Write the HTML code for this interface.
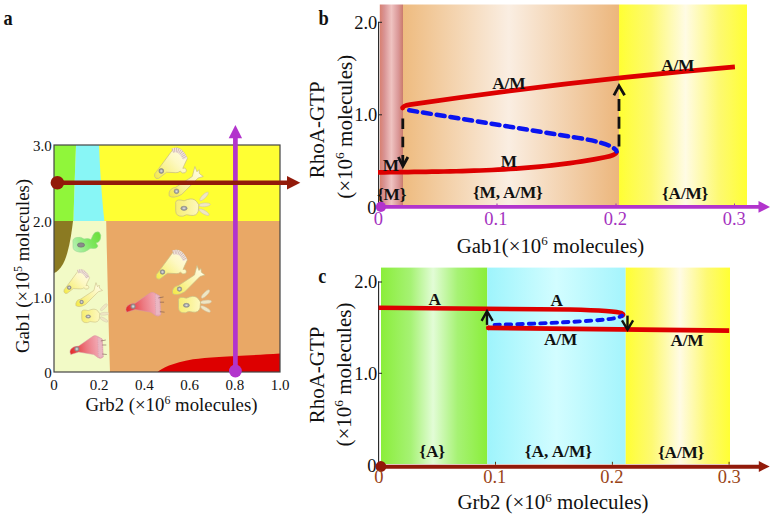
<!DOCTYPE html>
<html><head><meta charset="utf-8"><title>Figure</title>
<style>
html,body{margin:0;padding:0;background:#fff;}
body{width:776px;height:518px;overflow:hidden;}
svg{display:block;font-family:"Liberation Serif",serif;}
.t{font-size:18.5px;fill:#111;}
.ta{font-size:15px;fill:#111;}
.b{font-weight:bold;font-size:17.3px;fill:#111;letter-spacing:-0.2px;}
.ax{font-size:18.8px;fill:#111;}
.ay{font-size:21px;fill:#111;}
</style></head>
<body>
<svg width="776" height="518" viewBox="0 0 776 518">
<defs>
  <linearGradient id="gPink" x1="0" x2="1" y1="0" y2="0">
    <stop offset="0" stop-color="#d88070"/><stop offset="0.2" stop-color="#d99494"/><stop offset="0.5" stop-color="#efc3c1"/><stop offset="0.8" stop-color="#da9797"/><stop offset="0.95" stop-color="#d08276"/><stop offset="1" stop-color="#c87a6e"/>
  </linearGradient>
  <linearGradient id="gOr" x1="0" x2="1" y1="0" y2="0">
    <stop offset="0" stop-color="#eebb7f"/><stop offset="0.49" stop-color="#faeee2"/><stop offset="1" stop-color="#ecb67c"/>
  </linearGradient>
  <linearGradient id="gYel" x1="0" x2="1" y1="0" y2="0">
    <stop offset="0" stop-color="#ffff33"/><stop offset="0.25" stop-color="#fdf972"/><stop offset="0.52" stop-color="#fffbe4"/><stop offset="0.78" stop-color="#fdf972"/><stop offset="1" stop-color="#ffff33"/>
  </linearGradient>
  <linearGradient id="gGrn" x1="0" x2="1" y1="0" y2="0">
    <stop offset="0" stop-color="#8aee3a"/><stop offset="0.28" stop-color="#a6f274"/><stop offset="0.49" stop-color="#e2fcd6"/><stop offset="0.72" stop-color="#a6f274"/><stop offset="1" stop-color="#8aee3a"/>
  </linearGradient>
  <linearGradient id="gCy" x1="0" x2="1" y1="0" y2="0">
    <stop offset="0" stop-color="#9ef4fc"/><stop offset="0.5" stop-color="#d2fdff"/><stop offset="1" stop-color="#a4f4fc"/>
  </linearGradient>

  <linearGradient id="gCellY" gradientUnits="userSpaceOnUse" x1="-6" y1="6" x2="20" y2="-18">
    <stop offset="0" stop-color="#f4ea48"/><stop offset="0.35" stop-color="#f9f290"/><stop offset="0.7" stop-color="#fdf8c4"/><stop offset="1" stop-color="#fffbdc"/>
  </linearGradient>
  <linearGradient id="gCellY2" gradientUnits="userSpaceOnUse" x1="10" y1="20" x2="40" y2="-2">
    <stop offset="0" stop-color="#f4ea48"/><stop offset="0.4" stop-color="#f9f294"/><stop offset="1" stop-color="#fffce4"/>
  </linearGradient>
  <linearGradient id="gCellY3" gradientUnits="userSpaceOnUse" x1="16" y1="33" x2="38" y2="33">
    <stop offset="0" stop-color="#f7ee70"/><stop offset="1" stop-color="#fdf8c0"/>
  </linearGradient>
  <linearGradient id="gCellR" gradientUnits="userSpaceOnUse" x1="-6" y1="2" x2="26" y2="-2">
    <stop offset="0" stop-color="#e42c2c"/><stop offset="0.5" stop-color="#ec7a82"/><stop offset="1" stop-color="#f4b8c4"/>
  </linearGradient>
  <linearGradient id="gCellG" gradientUnits="userSpaceOnUse" x1="74" y1="248" x2="99" y2="236">
    <stop offset="0" stop-color="#b4f0b0"/><stop offset="0.6" stop-color="#7ee860"/><stop offset="1" stop-color="#6ee040"/>
  </linearGradient>
  <radialGradient id="gNuc" cx="0.5" cy="0.5" r="0.5">
    <stop offset="0" stop-color="#e8e8e8"/><stop offset="0.6" stop-color="#a8a8a8"/><stop offset="1" stop-color="#888"/>
  </radialGradient>
  <g id="fan">
    <path d="M-6.4,5.2 Q-7,2.5 -4.5,0.5 L11.8,-21.5 Q19,-24.5 24.8,-11.9 L22,-6 Q21,-3.5 20.5,-2.5 Q23.5,-3.8 23.9,0 Q23.2,2.6 20,1.8 L18,0.2 Q16,1.8 13.8,1.6 L5,1.2 L-2.5,7 Q-5.5,8 -6.4,5.2 Z" fill="url(#gCellY)" stroke="#c9bd84" stroke-width="0.7"/>
    <path d="M10.6,-19.4 Q17.8,-22.2 22.8,-11.6" fill="none" stroke="#efe3da" stroke-width="4.4"/>
    <path d="M10.6,-19.4 Q17.8,-22.2 22.8,-11.6" fill="none" stroke="#c6a9a4" stroke-width="4.4" stroke-dasharray="0.55 1.25"/>
    <circle cx="0" cy="0" r="2.3" fill="url(#gNuc)" stroke="#7e7e8a" stroke-width="0.6"/>
  </g>
  <g id="elong">
    <g transform="translate(-17,-17.1)">
    <path d="M10,18.5 Q11,14 16,13.5 L32,3 L34.5,-6.5 L36.5,-1.5 L38.5,-3.5 L38.8,0.2 L42.5,3 L37.5,4.5 L22,20 Q14,24.5 10,21.5 Z" fill="url(#gCellY2)" stroke="#c9bd84" stroke-width="0.7"/>
    <circle cx="17" cy="17.1" r="2.3" fill="url(#gNuc)" stroke="#8a8a8a" stroke-width="0.5"/>
    </g>
  </g>
  <g id="round">
    <g transform="translate(-23.9,-33.3)">
    <ellipse cx="43" cy="22" rx="5.5" ry="1.8" transform="rotate(-45 43 22)" fill="#efe6c4" stroke="#cfc6a8" stroke-width="0.5"/>
    <ellipse cx="43.5" cy="30" rx="5.5" ry="1.8" transform="rotate(-5 43.5 30)" fill="#efe6c4" stroke="#cfc6a8" stroke-width="0.5"/>
    <ellipse cx="43" cy="37" rx="5.5" ry="1.8" transform="rotate(30 43 37)" fill="#efe6c4" stroke="#cfc6a8" stroke-width="0.5"/>
    <path d="M16,30 Q15,24.5 21,25.5 Q24,27 27,25 Q33,23 36,27 L38,30 L37.5,36 Q36,41 30,40 Q26,38.5 23,40.8 Q16,41.5 16,35.5 Z" fill="url(#gCellY3)" stroke="#c9bd84" stroke-width="0.7"/>
    <ellipse cx="23.9" cy="33.3" rx="3" ry="2" fill="url(#gNuc)" stroke="#8a8a8a" stroke-width="0.5"/>
    </g>
  </g>
  <g id="redcell">
    <path d="M-6.5,1 Q-4,-3 2,-3 L15,-12 Q18,-14.5 21,-12.5 L25.5,-10 L26.5,8 Q24,10.5 21,8.5 L17,5.5 L2,3 L-6,5.5 Q-7.5,3 -6.5,1 Z" fill="url(#gCellR)" stroke="#d49aa4" stroke-width="0.5"/>
    <path d="M21,-12 L25,-10 L26,8 L21.5,8.5 Z" fill="#eab6c2" stroke="#cc95a5" stroke-width="0.5" stroke-dasharray="1 0.8"/>
    <path d="M24,-8 L29,-9 M25.5,-4 L29.5,-4 M25.5,5 L30,5.5" stroke="#7a5a50" stroke-width="0.6"/>
    <circle cx="0" cy="0" r="2.2" fill="url(#gNuc)" stroke="#8a8a8a" stroke-width="0.5"/>
  </g>
</defs>

<!-- ============ PANEL A ============ -->
<text transform="translate(3.6,24.6) scale(0.87,1)" style="font-weight:bold;font-size:21px;fill:#111">a</text>
<g>
  <rect x="54" y="145" width="226" height="76" fill="#ffff33"/>
  <path d="M54,145 L76,145 C75,170 74,200 73.5,221 L54,221 Z" fill="#90f63a"/>
  <path d="M76,145 L99,145 C100,170 102,200 104.4,221 L73.5,221 C74,200 75,170 76,145 Z" fill="#88f6f6"/>
  <rect x="54" y="221" width="226" height="151" fill="#e9a866"/>
  <path d="M54,221 L106.2,221 C107,260 108.5,320 110,372 L54,372 Z" fill="#f2fac6"/>
  <path d="M54,221 L73,221 C71,238 68,255 63,264 C60,269 57,272 54,273 Z" fill="#8b7a22"/>
  <path d="M157.5,372 C162,368 172,363 193,359.2 C210,357 240,356 280,353.5 L280,372 Z" fill="#dd0000"/>
  <rect x="54" y="145" width="226" height="227" fill="none" stroke="#444" stroke-width="1.2"/>
</g>
<!-- cells placeholder -->
<g id="cells">
  <use href="#fan" transform="translate(161.3,171) scale(1.05)"/>
  <use href="#elong" transform="translate(176.5,191.3) scale(1.05)"/>
  <use href="#round" transform="translate(184,208.3) scale(1.05)"/>
  <use href="#fan" transform="translate(162.5,272)"/>
  <use href="#elong" transform="translate(179.5,289.1)"/>
  <use href="#round" transform="translate(186.4,305.3)"/>
  <use href="#fan" transform="translate(69.2,287.6) scale(0.82)"/>
  <use href="#elong" transform="translate(81.6,302) scale(0.82)"/>
  <use href="#round" transform="translate(88.2,316.5) scale(0.82)"/>
  <use href="#redcell" transform="translate(76.8,349)"/>
  <use href="#redcell" transform="translate(133.1,306.4) scale(1.05)"/>
  <path d="M73,243 Q72,238 77,237.5 Q81,236.5 84,239 Q88,238 91,239.5 L93,235 Q95,231 99,232 Q102,235 100,240 Q99,242.5 96,243 L98,246 Q97,249 93,248.5 Q90,247.5 88,250 Q84,253 79,252 Q73,251 73,247 Z" fill="url(#gCellG)" stroke="#9ad890" stroke-width="0.6"/>
  <ellipse cx="81" cy="245" rx="3.6" ry="2.2" fill="#8a8a8a" stroke="#666" stroke-width="0.5"/>
</g>
<!-- arrows a -->
<line x1="235.4" y1="371" x2="235.4" y2="137" stroke="#b234cc" stroke-width="4.7"/>
<polygon points="228.7,138.2 235.4,125 242.1,138.2" fill="#b234cc"/>
<circle cx="235.4" cy="371" r="6.4" fill="#b234cc"/>
<line x1="57.4" y1="182.8" x2="288" y2="182.8" stroke="#921a0a" stroke-width="4.6"/>
<polygon points="287,176 300.3,182.8 287,189.6" fill="#921a0a"/>
<circle cx="57.4" cy="182.8" r="6.8" fill="#921a0a"/>
<!-- ticks a -->
<g class="ta" text-anchor="end">
  <text x="51.7" y="150.8">3.0</text>
  <text x="51.7" y="226.8">2.0</text>
  <text x="51.7" y="302.8">1.0</text>
  <text x="51.7" y="377.8">0</text>
</g>
<g class="ta" text-anchor="middle">
  <text x="54" y="389.7">0</text>
  <text x="99.2" y="389.7">0.2</text>
  <text x="144.4" y="389.7">0.4</text>
  <text x="189.6" y="389.7">0.6</text>
  <text x="234.8" y="389.7">0.8</text>
  <text x="280" y="389.7">1.0</text>
</g>
<text class="ax" x="171.5" y="411.2" text-anchor="middle">Grb2 (×10<tspan dy="-7" font-size="12">6</tspan><tspan dy="7"> molecules)</tspan></text>
<text class="ax" transform="translate(28.5,266) rotate(-90)" text-anchor="middle">Gab1 (×10<tspan dy="-7" font-size="12">5</tspan><tspan dy="7"> molecules)</tspan></text>

<!-- ============ PANEL B ============ -->
<text transform="translate(318.4,24.9) scale(0.9,1)" style="font-weight:bold;font-size:20.5px;fill:#111">b</text>
<rect x="379.8" y="4.5" width="23.2" height="200.5" fill="url(#gPink)"/>
<rect x="403" y="4.5" width="216" height="200.5" fill="url(#gOr)"/>
<rect x="619" y="4.5" width="128" height="200.5" fill="url(#gYel)"/>
<line x1="378.6" y1="21.8" x2="378.6" y2="207.5" stroke="#222" stroke-width="1.1"/>
<line x1="378.6" y1="22.3" x2="382" y2="22.3" stroke="#222" stroke-width="1"/>
<line x1="378.6" y1="114.8" x2="382" y2="114.8" stroke="#222" stroke-width="1"/>
<g class="t" text-anchor="end">
  <text x="377.3" y="28.8">2.0</text>
  <text x="377.3" y="121.1">1.0</text>
  <text x="376.6" y="214.4">0</text>
</g>
<text class="ay" transform="translate(324,129.8) rotate(-90)" text-anchor="middle">RhoA-GTP</text>
<text class="ay" transform="translate(351.5,126.8) rotate(-90)" text-anchor="middle">(×10<tspan dy="-8" font-size="13.5">6</tspan><tspan dy="8"> molecules)</tspan></text>
<!-- curves b -->
<path d="M378.0,172.44 L384.0,172.34 L390.0,172.26 L396.0,172.18 L402.0,172.10 L408.0,172.03 L414.0,171.95 L420.0,171.87 L426.0,171.79 L432.0,171.70 L438.0,171.61 L444.0,171.50 L450.0,171.38 L456.0,171.24 L462.0,171.09 L468.0,170.92 L474.0,170.72 L480.0,170.51 L486.0,170.27 L492.0,170.00 L498.0,169.70 L504.0,169.37 L510.0,169.01 L516.0,168.62 L522.0,168.18 L528.0,167.71 L534.0,167.19 L540.0,166.64 L546.0,166.03 L552.0,165.38 L558.0,164.68 L564.0,163.93 L570.0,163.12 L576.0,162.26 L582.0,161.34 L588.0,160.36 L594.0,159.32 L605.0,157.24 C611.0,156.05 616.6,154.6 616.6,151.6" fill="none" stroke="#dd0000" stroke-width="4.7" stroke-linejoin="round"/>
<path d="M402.5,108.2 Q403.2,105.6 410,104.66 Q572.45,80.6 734.9,66.9" fill="none" stroke="#dd0000" stroke-width="4.7"/>
<circle cx="402.6" cy="108.1" r="2.35" fill="#dd0000"/>
<path d="M403.6,109.4 L578,137.9 C596,140.8 607,144.2 612,147 C615,148.8 616.4,150.2 616.6,151.4" fill="none" stroke="#0a14f0" stroke-width="4.5" stroke-dasharray="8 5.9" stroke-dashoffset="-5.7" stroke-linecap="round"/>
<path d="M402.8,118.6 L402.8,166" fill="none" stroke="#111" stroke-width="2.8" stroke-dasharray="10.4 7.8"/>
<polyline points="398.4,157 402.9,166.2 407.9,157" fill="none" stroke="#111" stroke-width="2.8"/>
<path d="M619,146.5 L619,97.5" fill="none" stroke="#111" stroke-width="2.8" stroke-dasharray="12 5.7"/>
<polyline points="613.9,95.3 619,85.8 624.6,95.3" fill="none" stroke="#111" stroke-width="2.8"/>
<!-- x axis b -->
<path d="M497,205 v-1.5 M616,205 v-1.5 M734.5,205 v-1.5" stroke="#9a3aa8" stroke-width="1"/>
<line x1="381" y1="206.9" x2="759" y2="206.9" stroke="#b234cc" stroke-width="3.9"/>
<polygon points="758.5,201 770,206.9 758.5,212.7" fill="#b234cc"/>
<circle cx="380.9" cy="206.9" r="5.1" fill="#b234cc"/>
<g class="t" text-anchor="middle" style="fill:#a432c0">
  <text x="378.3" y="225.2">0</text>
  <text x="495.9" y="225.2">0.1</text>
  <text x="615.4" y="225.2">0.2</text>
  <text x="734.2" y="225.2">0.3</text>
</g>
<text class="ax" x="550.5" y="252.8" text-anchor="middle" style="font-size:20.8px">Gab1(×10<tspan dy="-7.5" font-size="13">6</tspan><tspan dy="7.5"> molecules)</tspan></text>
<!-- labels b -->
<g class="b">
  <text x="492.3" y="88.6">A/M</text>
  <text x="661.2" y="70.9">A/M</text>
  <text x="382.8" y="170.6">M</text>
  <text x="500.8" y="167.2">M</text>
  <text x="377" y="199.8">{M}</text>
  <text x="473" y="198.0">{M, A/M}</text>
  <text x="662" y="199.1">{A/M}</text>
</g>

<!-- ============ PANEL C ============ -->
<text transform="translate(318.3,283.2) scale(0.86,1)" style="font-weight:bold;font-size:21px;fill:#111">c</text>
<rect x="381" y="267.6" width="106.3" height="196.4" fill="url(#gGrn)"/>
<rect x="487.3" y="267.6" width="138.4" height="196.4" fill="url(#gCy)"/>
<rect x="625.7" y="267.6" width="104.3" height="196.4" fill="url(#gYel)"/>
<line x1="378.6" y1="281.2" x2="378.6" y2="466" stroke="#222" stroke-width="1.1"/>
<line x1="378.6" y1="282" x2="382" y2="282" stroke="#222" stroke-width="1"/>
<line x1="378.6" y1="373.3" x2="382" y2="373.3" stroke="#222" stroke-width="1"/>
<g class="t" text-anchor="end">
  <text x="377.3" y="288.4">2.0</text>
  <text x="377.3" y="379.9">1.0</text>
  <text x="376.6" y="471.7">0</text>
</g>
<text class="ay" transform="translate(323.8,374.9) rotate(-90)" text-anchor="middle">RhoA-GTP</text>
<text class="ay" transform="translate(351.4,374.6) rotate(-90)" text-anchor="middle">(×10<tspan dy="-8" font-size="13.5">6</tspan><tspan dy="8"> molecules)</tspan></text>
<!-- curves c -->
<path d="M378.6,307.7 L570,309.6 C600,310.4 617,311.3 621.8,313.2 C624,314.2 623.4,315.4 621.5,316" fill="none" stroke="#dd0000" stroke-width="4.5"/>
<circle cx="621.9" cy="315.4" r="1.6" fill="#dd0000"/>
<path d="M494.6,324.85 C530,324 575,322 600,320 C612,319 620,317.5 622,315.5" fill="none" stroke="#0a14f0" stroke-width="3.9" stroke-dasharray="5.4 6" stroke-linecap="round"/>
<path d="M488,327.9 L729.2,330.6" fill="none" stroke="#dd0000" stroke-width="4.6"/>
<circle cx="488.2" cy="327.9" r="2.3" fill="#dd0000"/>

<line x1="487" y1="324.9" x2="487" y2="312" stroke="#111" stroke-width="2.4"/>
<polyline points="481.6,320.8 487,311.2 492.7,320.8" fill="none" stroke="#111" stroke-width="2.4"/>
<line x1="627.5" y1="315.6" x2="627.5" y2="329" stroke="#111" stroke-width="2.4"/>
<polyline points="622,320.3 627.5,329.7 633.1,320.3" fill="none" stroke="#111" stroke-width="2.4"/>
<!-- x axis c -->
<path d="M495.5,464.8 v-3 M612.4,464.8 v-3 M729.1,464.8 v-3" stroke="#5a3a10" stroke-width="1"/>
<line x1="381.7" y1="466.7" x2="759.5" y2="466.7" stroke="#921a0a" stroke-width="3.9"/>
<polygon points="758.8,461.1 769.7,466.6 758.8,471.9" fill="#921a0a"/>
<circle cx="380.9" cy="466.5" r="5.4" fill="#921a0a"/>
<g class="t" text-anchor="middle" style="fill:#9a4416">
  <text x="378.8" y="483.1">0</text>
  <text x="494.7" y="483.1">0.1</text>
  <text x="611.9" y="483.1">0.2</text>
  <text x="729.2" y="483.1">0.3</text>
</g>
<text class="ax" x="553" y="509.2" text-anchor="middle" style="font-size:20.9px">Grb2 (×10<tspan dy="-7.5" font-size="13">6</tspan><tspan dy="7.5"> molecules)</tspan></text>
<g class="b">
  <text x="428.6" y="304.6">A</text>
  <text x="550.6" y="305.9">A</text>
  <text x="544" y="344.7">A/M</text>
  <text x="670.4" y="346">A/M</text>
  <text x="419.3" y="456.9">{A}</text>
  <text x="524.8" y="457" style="letter-spacing:0">{A, A/M}</text>
  <text x="658" y="458.3">{A/M}</text>
</g>
</svg>
</body></html>
